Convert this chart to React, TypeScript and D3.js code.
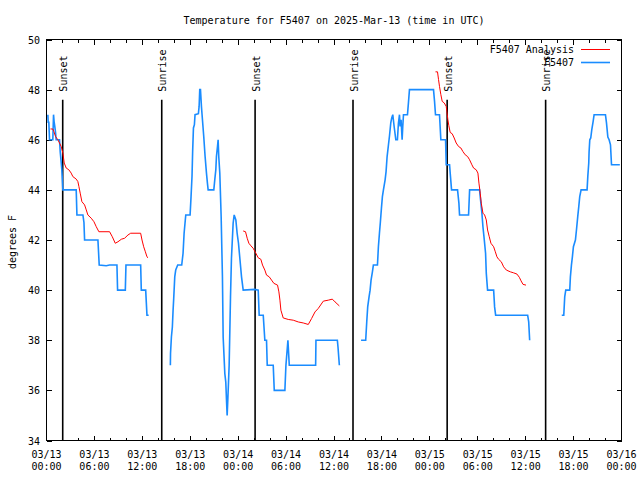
import React from "react";
import * as d3 from "d3";

// ---- Data (hours since 2025-03-13 00:00 UTC, temperature °F) ----
const title = "Temperature for F5407 on 2025-Mar-13 (time in UTC)";
const yLabel = "degrees F";
const analysisName = "F5407 Analysis";
const stationName = "F5407";

const yTickValues = [34, 36, 38, 40, 42, 44, 46, 48, 50];
const xLabelHours = [0, 6, 12, 18, 24, 30, 36, 42, 48, 54, 60, 66, 72];

const sunsetHours = [2.03, 26.12, 50.17];
const sunriseHours = [14.43, 38.38, 62.5];

const station1: [number, number][] = [
  [0.17, 47.0], [0.21, 46.7], [0.29, 46.7], [0.38, 46.0], [0.79, 46.0], [0.88, 47.0],
  [0.96, 46.7], [1.05, 46.5], [1.13, 46.3], [1.21, 46.0], [1.63, 46.0], [1.72, 45.5],
  [1.84, 45.1], [1.92, 44.8], [2.05, 44.0], [3.72, 44.0], [3.81, 43.0], [4.56, 43.0],
  [4.69, 42.7], [4.77, 42.0], [6.44, 42.0], [6.52, 41.5], [6.6, 41.0], [7.48, 40.97],
  [7.9, 41.0], [8.82, 41.0], [8.9, 40.0], [9.87, 40.0], [9.95, 41.0], [11.79, 41.0],
  [11.87, 40.0], [12.42, 40.0], [12.5, 39.5], [12.58, 39.0], [12.79, 39.0],
];

const station2: [number, number][] = [
  [15.51, 37.0], [15.53, 37.47], [15.64, 38.13], [15.76, 38.53], [15.85, 39.2], [15.93, 39.67],
  [16.06, 40.53], [16.18, 40.8], [16.43, 41.0], [16.93, 41.0], [17.1, 41.47], [17.23, 42.27],
  [17.38, 42.8], [17.44, 43.0], [17.98, 43.0], [18.1, 43.73], [18.22, 44.53], [18.3, 45.53],
  [18.4, 46.47], [18.52, 46.6], [18.6, 47.0], [19.02, 47.04], [19.11, 47.33], [19.19, 48.0],
  [19.28, 48.0], [19.4, 47.33], [19.48, 47.0], [19.69, 46.13], [19.86, 45.33], [20.03, 44.67],
  [20.15, 44.27], [20.24, 44.0], [20.95, 44.0], [21.07, 44.4], [21.2, 44.8], [21.28, 45.33],
  [21.41, 45.73], [21.49, 46.0], [21.57, 45.33], [21.7, 44.67], [21.87, 42.93], [22.03, 40.53],
  [22.12, 38.13], [22.33, 36.67], [22.45, 36.33], [22.54, 35.6], [22.62, 35.0], [22.7, 35.6],
  [22.79, 36.33], [22.87, 37.0], [22.95, 38.27], [23.04, 39.73], [23.16, 41.27], [23.37, 42.67],
  [23.5, 43.0], [23.71, 42.8], [23.87, 42.27], [24.04, 41.87], [24.21, 41.27], [24.42, 40.53],
  [24.63, 40.0], [26.09, 40.03], [26.51, 40.0], [26.63, 39.0], [27.14, 39.0], [27.34, 38.0],
  [27.55, 38.0], [27.64, 37.0], [28.39, 37.0], [28.52, 36.0], [29.85, 36.0], [29.98, 37.0],
  [30.23, 38.0], [30.4, 37.0], [33.7, 37.0], [33.74, 38.0], [36.42, 38.0], [36.5, 37.73],
  [36.67, 37.0],
];

const station3: [number, number][] = [
  [39.39, 38.0], [39.97, 38.0], [40.1, 38.73], [40.22, 39.33], [40.39, 39.73], [40.52, 40.0],
  [40.64, 40.4], [40.81, 40.73], [40.93, 41.0], [41.44, 41.0], [41.56, 41.73], [41.69, 42.27],
  [41.81, 42.73], [41.94, 43.27], [42.06, 43.73], [42.19, 44.0], [42.4, 44.4], [42.52, 44.73],
  [42.65, 45.33], [42.82, 45.8], [42.94, 46.13], [43.11, 46.67], [43.23, 46.87], [43.36, 47.0],
  [43.53, 46.53], [43.74, 46.0], [43.94, 46.0], [44.07, 46.67], [44.2, 47.0], [44.28, 46.53],
  [44.4, 46.8], [44.53, 46.0], [44.61, 46.53], [44.7, 47.0], [45.2, 47.0], [45.32, 47.47],
  [45.45, 48.0], [48.46, 48.0], [48.59, 47.53], [48.71, 47.0], [49.21, 47.0], [49.38, 46.0],
  [49.97, 46.0], [50.05, 45.0], [50.47, 45.0], [50.55, 44.67], [50.72, 44.0], [51.47, 44.0],
  [51.64, 43.47], [51.72, 43.0], [52.85, 43.0], [52.98, 44.0], [54.23, 44.0], [54.31, 43.73],
  [54.52, 43.07], [54.65, 42.53], [54.82, 42.0], [54.98, 41.47], [55.07, 40.67], [55.23, 40.0],
  [55.99, 40.0], [56.11, 39.33], [56.24, 39.0], [60.25, 39.0], [60.38, 38.73], [60.5, 38.0],
];

const station4: [number, number][] = [
  [64.52, 39.0], [64.77, 39.0], [64.89, 39.73], [65.02, 40.0], [65.52, 40.0], [65.6, 40.53],
  [65.73, 41.0], [65.85, 41.33], [65.98, 41.73], [66.23, 42.0], [66.36, 42.4], [66.52, 42.93],
  [66.65, 43.33], [66.77, 43.73], [66.94, 44.0], [67.69, 44.0], [67.78, 44.53], [67.9, 45.07],
  [67.94, 45.51], [68.03, 46.0], [68.15, 46.07], [68.28, 46.4], [68.45, 46.73], [68.57, 47.0],
  [69.99, 47.0], [70.12, 46.67], [70.29, 46.11], [70.45, 46.0], [70.62, 45.8], [70.75, 45.0],
  [71.79, 45.0],
];

const analysis1: [number, number][] = [
  [0.5, 46.43], [0.79, 46.43], [0.92, 46.33], [1.13, 46.13], [1.42, 46.0], [1.63, 45.87],
  [1.84, 45.73], [2.05, 45.47], [2.22, 45.07], [2.47, 44.87], [2.8, 44.8], [3.09, 44.67],
  [3.3, 44.53], [3.72, 44.43], [3.93, 44.33], [4.06, 44.13], [4.22, 43.87], [4.43, 43.53],
  [4.77, 43.4], [4.98, 43.2], [5.18, 43.0], [5.6, 42.87], [5.94, 42.73], [6.23, 42.53],
  [6.56, 42.33], [7.9, 42.33], [8.24, 42.13], [8.61, 41.87], [8.95, 41.93], [9.37, 42.03],
  [9.78, 42.07], [10.2, 42.2], [10.54, 42.27], [11.79, 42.27], [11.96, 42.0], [12.17, 41.73],
  [12.38, 41.53], [12.58, 41.33], [12.71, 41.29],
];

const analysis2: [number, number][] = [
  [24.63, 42.36], [24.92, 42.33], [25.13, 42.07], [25.34, 41.87], [25.59, 41.77], [25.88, 41.67],
  [26.22, 41.47], [26.51, 41.29], [26.84, 41.23], [27.05, 41.0], [27.34, 40.8], [27.55, 40.6],
  [27.89, 40.53], [28.18, 40.4], [28.47, 40.27], [28.93, 40.2], [29.1, 39.93], [29.23, 39.6],
  [29.35, 39.2], [29.64, 38.89], [30.27, 38.83], [30.9, 38.8], [31.53, 38.73], [32.15, 38.69],
  [32.78, 38.63], [33.2, 38.87], [33.62, 39.13], [34.03, 39.27], [34.66, 39.56], [35.29, 39.6],
  [35.79, 39.64], [36.13, 39.53], [36.67, 39.37],
];

const analysis3: [number, number][] = [
  [48.71, 48.71], [48.96, 48.71], [49.09, 48.4], [49.21, 48.13], [49.38, 47.8], [49.55, 47.53],
  [49.8, 47.47], [50.05, 47.33], [50.13, 47.13], [50.26, 46.8], [50.38, 46.56], [50.55, 46.29],
  [50.8, 46.24], [51.05, 46.07], [51.3, 45.87], [51.6, 45.73], [51.89, 45.67], [52.14, 45.53],
  [52.43, 45.4], [52.73, 45.33], [52.98, 45.2], [53.27, 45.0], [53.48, 44.87], [53.81, 44.8],
  [54.02, 44.67], [54.15, 44.27], [54.31, 43.87], [54.44, 43.47], [54.65, 43.07], [54.86, 43.0],
  [55.07, 42.8], [55.23, 42.4], [55.44, 42.13], [55.65, 41.87], [55.99, 41.73], [56.2, 41.53],
  [56.4, 41.33], [56.61, 41.23], [56.95, 41.13], [57.24, 40.93], [57.58, 40.8], [58.08, 40.73],
  [58.49, 40.69], [58.91, 40.64], [59.21, 40.51], [59.42, 40.37], [59.67, 40.23], [60.04, 40.2],
];

const stationSegments = [station1, station2, station3, station4];
const analysisSegments = [analysis1, analysis2, analysis3];

const T0 = Date.UTC(2025, 2, 13);
const toDate = (h: number) => new Date(T0 + h * 3600e3);

const RED = "#ff0000";
const BLUE = "#1a8cff";
const FONT = "'DejaVu Sans Mono', 'Liberation Mono', monospace";

export default function App() {
  const W = 640;
  const H = 480;
  const left = 46.5, right = 621.5, top = 39.5, bottom = 440.5;

  const x = d3.scaleUtc().domain([toDate(0), toDate(72)]).range([left, right]);
  const y = d3.scaleLinear().domain([34, 50]).range([bottom, top]);

  const line = d3
    .line<[number, number]>()
    .x((d) => x(toDate(d[0])))
    .y((d) => y(d[1]));

  const minorTicks = x.ticks(d3.utcHour.every(2) as any);
  const majorSet = new Set(xLabelHours.map((h) => toDate(h).getTime()));
  const fmtDate = d3.utcFormat("%m/%d");
  const fmtTime = d3.utcFormat("%H:%M");

  const lineTop = bottom - 0.85 * (bottom - top);
  const labelTop = bottom - 0.87 * (bottom - top);

  const markers = [
    ...sunsetHours.map((h) => ({ h, label: "Sunset" })),
    ...sunriseHours.map((h) => ({ h, label: "Sunrise" })),
  ];

  return (
    <svg
      width={W}
      height={H}
      style={{ position: "absolute", left: 0, top: 0, background: "#fff" }}
      fontFamily={FONT}
      fontSize={10}
    >
      <rect x={0} y={0} width={W} height={H} fill="#fff" />
      {/* title */}
      <text x={(left + right) / 2} y={24} textAnchor="middle" fill="#000">
        {title}
      </text>
      {/* y label */}
      <text transform="translate(16,242) rotate(-90)" textAnchor="middle" fill="#000">
        {yLabel}
      </text>

      {/* y ticks */}
      <g shapeRendering="crispEdges" stroke="#000" strokeWidth={1}>
        {yTickValues.map((v) => (
          <g key={"y" + v}>
            <line x1={left} x2={left + 5} y1={Math.round(y(v)) + 0.5} y2={Math.round(y(v)) + 0.5} />
            <line x1={right - 5} x2={right} y1={Math.round(y(v)) + 0.5} y2={Math.round(y(v)) + 0.5} />
          </g>
        ))}
        {minorTicks.map((t) => {
          const major = majorSet.has(t.getTime());
          const len = major ? 5 : 3;
          const px = Math.round(x(t) - 0.5) + 0.5;
          return (
            <g key={"x" + t.getTime()}>
              <line x1={px} x2={px} y1={bottom} y2={bottom - len} />
              <line x1={px} x2={px} y1={top} y2={top + len} />
            </g>
          );
        })}
      </g>
      {yTickValues.map((v) => (
        <text key={"yl" + v} x={40} y={y(v) + 4} textAnchor="end" fill="#000">
          {v}
        </text>
      ))}
      {xLabelHours.map((h) => {
        const d = toDate(h);
        return (
          <text key={"xl" + h} x={x(d)} textAnchor="middle" fill="#000">
            <tspan x={x(d)} y={458}>{fmtDate(d)}</tspan>
            <tspan x={x(d)} y={470}>{fmtTime(d)}</tspan>
          </text>
        );
      })}

      {/* sunrise / sunset markers */}
      {markers.map((m) => {
        const px = x(toDate(m.h));
        return (
          <g key={m.label + m.h}>
            <line x1={px} x2={px} y1={bottom} y2={lineTop} stroke="#000" strokeWidth={1.6} />
            <text transform={`translate(${px + 4.5},${labelTop}) rotate(-90)`} fill="#000">
              {m.label}
            </text>
          </g>
        );
      })}

      {/* data */}
      {stationSegments.map((seg, i) => (
        <path key={"s" + i} d={line(seg) || ""} fill="none" stroke={BLUE} strokeWidth={1.6} />
      ))}
      {analysisSegments.map((seg, i) => (
        <path key={"a" + i} d={line(seg) || ""} fill="none" stroke={RED} strokeWidth={1} />
      ))}

      {/* legend */}
      <text x={574} y={53} textAnchor="end" fill="#000">{analysisName}</text>
      <line x1={581} x2={610} y1={49.5} y2={49.5} stroke={RED} strokeWidth={1} />
      <text x={574} y={66} textAnchor="end" fill="#000">{stationName}</text>
      <line x1={581} x2={610} y1={62.5} y2={62.5} stroke={BLUE} strokeWidth={1.6} />

      {/* border */}
      <rect
        x={left}
        y={top}
        width={right - left}
        height={bottom - top}
        fill="none"
        stroke="#000"
        strokeWidth={1}
        shapeRendering="crispEdges"
      />
    </svg>
  );
}
